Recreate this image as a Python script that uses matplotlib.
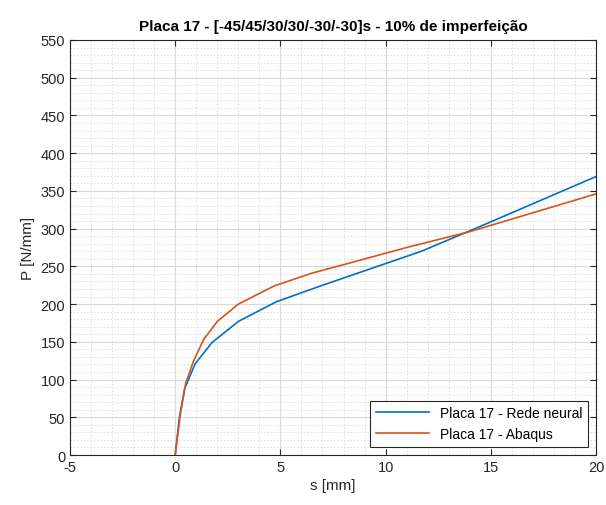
import matplotlib
matplotlib.use("Agg")
from matplotlib import pyplot as plt
from matplotlib.ticker import MultipleLocator

plt.rcParams['font.family'] = ['Liberation Sans', 'DejaVu Sans']
plt.rcParams['axes.unicode_minus'] = False

# neural network prediction
s_rede = [0, 0.2, 0.45, 0.95, 1.75, 3.0, 4.8, 6.8, 11.7, 14.5, 17.0, 20.0]
p_rede = [0, 50, 88, 121, 149, 177, 203, 223, 270, 303, 333, 369]

# abaqus result
s_abaqus = [0, 0.25, 0.5, 0.85, 1.35, 2.0, 3.0, 4.7, 6.5, 8.5, 11.0, 14.0, 17.0, 20.0]
p_abaqus = [0, 55, 95, 123, 153, 177, 200, 224, 241, 256, 275, 296, 321, 346]

fig = plt.figure(figsize=(6.06, 5.06), dpi=100)
ax = fig.add_axes([0.1155, 0.0988, 0.868, 0.8202])

ax.plot(s_rede, p_rede, color='#0072BD', lw=1.2, label='Placa 17 - Rede neural')
ax.plot(s_abaqus, p_abaqus, color='#D95319', lw=1.2, label='Placa 17 - Abaqus')

ax.set_xlim(-5, 20)
ax.set_ylim(0, 550)
ax.xaxis.set_major_locator(MultipleLocator(5))
ax.xaxis.set_minor_locator(MultipleLocator(1))
ax.yaxis.set_major_locator(MultipleLocator(50))
ax.yaxis.set_minor_locator(MultipleLocator(10))

ax.grid(which='major', color='#d8d8d8', lw=0.8)
ax.grid(which='minor', color='#dadada', lw=0.6, linestyle=(0, (2, 2)))
ax.set_axisbelow(True)

ax.tick_params(which='major', direction='in', length=4, top=True, right=True,
               labelsize=10.5, colors='#262626')
ax.tick_params(which='minor', length=0)
for sp in ax.spines.values():
    sp.set_color('#262626')
    sp.set_linewidth(0.8)

ax.set_xlabel('s [mm]', fontsize=11, color='#262626', labelpad=3)
ax.set_ylabel('P [N/mm]', fontsize=11, color='#262626', labelpad=4)
ax.set_title('Placa 17 - [-45/45/30/30/-30/-30]s - 10% de imperfeição',
             fontsize=11, fontweight='bold', pad=7)

leg = ax.legend(loc='lower right', fontsize=10, fancybox=False, framealpha=1,
                edgecolor='#262626', handlelength=3.8, borderaxespad=0.6)
leg.get_frame().set_linewidth(0.8)

fig.savefig('out.png', dpi=100)
